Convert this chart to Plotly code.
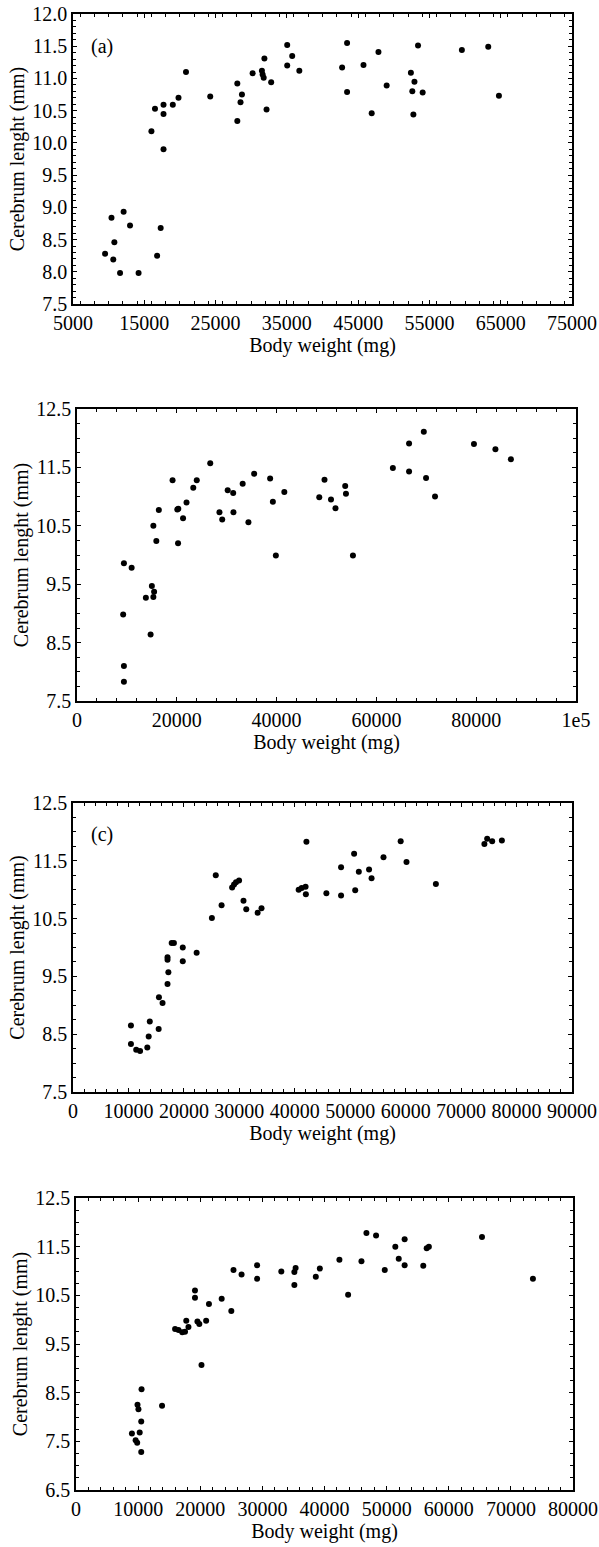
import plotly.graph_objects as go

# ---------------- data ----------------
a_weight = [9500, 10650, 10400, 10800, 11600, 12100, 13000, 14200, 16800, 17300,
            16000, 16500, 17700, 17700, 17700, 19000, 19800, 20850, 24250, 28050,
            28050, 28500, 28700, 30200, 31500, 31600, 31750, 31850, 32150, 32800,
            35050, 35050, 35750, 36750, 42750, 43450, 43450, 45750, 46900, 47850,
            49000, 52400, 52900, 52600, 52750, 53400, 54050, 59550, 63250, 64750]
a_length = [8.28, 8.19, 8.84, 8.46, 7.98, 8.93, 8.72, 7.98, 8.25, 8.68,
            10.18, 10.53, 10.59, 10.45, 9.90, 10.59, 10.70, 11.10, 10.72, 10.34,
            10.92, 10.63, 10.75, 11.08, 11.12, 11.06, 11.01, 11.31, 10.52, 10.94,
            11.52, 11.20, 11.35, 11.12, 11.17, 11.55, 10.79, 11.21, 10.46, 11.41,
            10.89, 11.09, 10.95, 10.80, 10.44, 11.51, 10.78, 11.44, 11.49, 10.73]

b_weight = [9400, 10950, 9250, 9400, 9400, 13800, 14750, 15000, 15300, 15450,
            15300, 15900, 16400, 19150, 20100, 20300, 20250, 21250, 21950, 23300,
            24000, 26700, 28550, 29100, 30200, 31300, 31350, 33200, 34350, 35500,
            38700, 39250, 39850, 41550, 48550, 49600, 50900, 51800, 53750, 53900,
            55300, 63300, 66550, 66550, 69500, 69950, 71750, 79550, 83850, 86950]
b_length = [9.86, 9.78, 8.98, 8.10, 7.83, 9.27, 8.64, 9.47, 9.28, 9.37,
            10.50, 10.24, 10.77, 11.28, 10.78, 10.79, 10.20, 10.63, 10.90, 11.15,
            11.28, 11.57, 10.73, 10.61, 11.11, 11.06, 10.73, 11.22, 10.56, 11.39,
            11.31, 10.91, 9.99, 11.08, 10.99, 11.29, 10.95, 10.80, 11.18, 11.05,
            9.99, 11.49, 11.91, 11.43, 12.11, 11.32, 11.00, 11.90, 11.81, 11.64]

c_weight = [10450, 10450, 11400, 12100, 13400, 13650, 13850, 15450, 15500, 16150,
            17050, 17200, 17050, 17050, 17800, 18200, 19800, 19800, 22300, 25050,
            25750, 26800, 28700, 29050, 29400, 29950, 30750, 31250, 33300, 34000,
            40700, 41250, 41950, 42000, 42100, 45700, 48350, 48350, 50700, 50900,
            51550, 53400, 53850, 56000, 59100, 60150, 65450, 74200, 74700, 75600,
            77350]
c_length = [8.65, 8.33, 8.23, 8.21, 8.27, 8.46, 8.72, 8.59, 9.14, 9.04,
            9.37, 9.57, 9.83, 9.79, 10.08, 10.08, 10.00, 9.76, 9.91, 10.51,
            11.25, 10.73, 11.04, 11.09, 11.13, 11.16, 10.81, 10.66, 10.60, 10.68,
            11.00, 11.03, 11.05, 10.92, 11.83, 10.94, 10.90, 11.39, 11.62, 10.99,
            11.31, 11.35, 11.20, 11.56, 11.84, 11.48, 11.10, 11.79, 11.88, 11.84,
            11.85]

d_weight = [9000, 9600, 9850, 9900, 10050, 10250, 10500, 10500, 10550, 13850,
            15950, 16500, 17100, 17550, 17750, 18100, 19150, 19150, 19550, 19850,
            20200, 20950, 21400, 23450, 25000, 25350, 26650, 29150, 29150, 33050,
            35150, 35350, 35150, 38600, 39250, 42400, 43800, 45950, 46750, 48300,
            49700, 51400, 51950, 52900, 52900, 55900, 56450, 56800, 65350, 73550]
d_length = [7.66, 7.52, 7.47, 8.25, 8.16, 7.68, 7.28, 7.91, 8.57, 8.23,
            9.81, 9.79, 9.74, 9.75, 9.98, 9.85, 10.60, 10.45, 9.96, 9.91,
            9.07, 9.98, 10.32, 10.43, 10.18, 11.02, 10.93, 11.12, 10.84, 10.99,
            10.98, 11.06, 10.71, 10.88, 11.05, 11.23, 10.51, 11.20, 11.78, 11.73,
            11.02, 11.50, 11.25, 11.12, 11.65, 11.11, 11.47, 11.50, 11.70, 10.84]

a_xticks = [5000, 15000, 25000, 35000, 45000, 55000, 65000, 75000]
b_xticks = [0, 20000, 40000, 60000, 80000, 100000]
b_xticktext = ["0", "20000", "40000", "60000", "80000", "1e5"]
c_xticks = [0, 10000, 20000, 30000, 40000, 50000, 60000, 70000, 80000, 90000]
d_xticks = [0, 10000, 20000, 30000, 40000, 50000, 60000, 70000, 80000]

x_title = "Body weight (mg)"
y_title = "Cerebrum lenght (mm)"

# ---------------- layout helpers ----------------
W, H = 599, 1547
FONT = "Liberation Serif, Times New Roman, serif"


def dx(l, r):
    return [l / W, r / W]


def dy(t, b):
    return [1 - b / H, 1 - t / H]


panels = [
    dict(x=a_weight, y=a_length, xr=[5000, 75000], yr=[7.5, 12.0],
         xtv=a_xticks, xtt=[str(v) for v in a_xticks], ydt=0.5, y0=7.5,
         xminor=2000, yminor=0.1, px=(73, 572), py=(14, 304)),
    dict(x=b_weight, y=b_length, xr=[0, 100000], yr=[7.5, 12.5],
         xtv=b_xticks, xtt=b_xticktext, ydt=1.0, y0=7.5,
         xminor=4000, yminor=0.25, px=(77, 576), py=(409, 701)),
    dict(x=c_weight, y=c_length, xr=[0, 90000], yr=[7.5, 12.5],
         xtv=c_xticks, xtt=[str(v) for v in c_xticks], ydt=1.0, y0=7.5,
         xminor=2000, yminor=0.25, px=(73, 572), py=(803, 1092)),
    dict(x=d_weight, y=d_length, xr=[0, 80000], yr=[6.5, 12.5],
         xtv=d_xticks, xtt=[str(v) for v in d_xticks], ydt=1.0, y0=6.5,
         xminor=2000, yminor=0.25, px=(76, 573), py=(1198, 1490)),
]

fig = go.Figure()
layout = dict(
    width=W, height=H,
    margin=dict(l=0, r=0, t=0, b=0),
    paper_bgcolor="white", plot_bgcolor="white",
    showlegend=False,
    font=dict(family=FONT, size=20, color="black"),
)

for i, p in enumerate(panels, start=1):
    xa = "x" if i == 1 else f"x{i}"
    ya = "y" if i == 1 else f"y{i}"
    fig.add_trace(go.Scatter(
        x=p["x"], y=p["y"], mode="markers", xaxis=xa, yaxis=ya,
        marker=dict(color="black", size=6),
        cliponaxis=False,
    ))
    common = dict(
        showline=True, linecolor="black", linewidth=1.5, mirror="ticks",
        ticks="inside", ticklen=4, tickwidth=1, tickcolor="black",
        showgrid=False, zeroline=False, automargin=False,
        tickfont=dict(family=FONT, size=20, color="black"),
    )
    layout["xaxis" if i == 1 else f"xaxis{i}"] = dict(
        common, domain=dx(*p["px"]), range=p["xr"], anchor=ya,
        tickmode="array", tickvals=p["xtv"], ticktext=p["xtt"],
        minor=dict(ticks="inside", ticklen=3, dtick=p["xminor"], tickcolor="black"),
        title=dict(text=x_title, font=dict(family=FONT, size=20), standoff=4),
    )
    layout["yaxis" if i == 1 else f"yaxis{i}"] = dict(
        common, domain=dy(*p["py"]), range=p["yr"], anchor=xa,
        tick0=p["y0"], dtick=p["ydt"], tickformat=".1f",
        minor=dict(ticks="inside", ticklen=3, dtick=p["yminor"], tickcolor="black"),
        title=dict(text=y_title, font=dict(family=FONT, size=20), standoff=2),
    )

fig.update_layout(**layout)

fig.add_annotation(text="(a)", x=0.032, y=11.5, xref="x domain", yref="y",
                   showarrow=False, font=dict(family=FONT, size=20, color="black"),
                   xanchor="left")
fig.add_annotation(text="(c)", x=0.032, y=11.95, xref="x3 domain", yref="y3",
                   showarrow=False, font=dict(family=FONT, size=20, color="black"),
                   xanchor="left")

fig.write_html("out.html",
               config={"displayModeBar": False},
               post_script="document.body.style.margin='0';document.body.style.padding='0';")
